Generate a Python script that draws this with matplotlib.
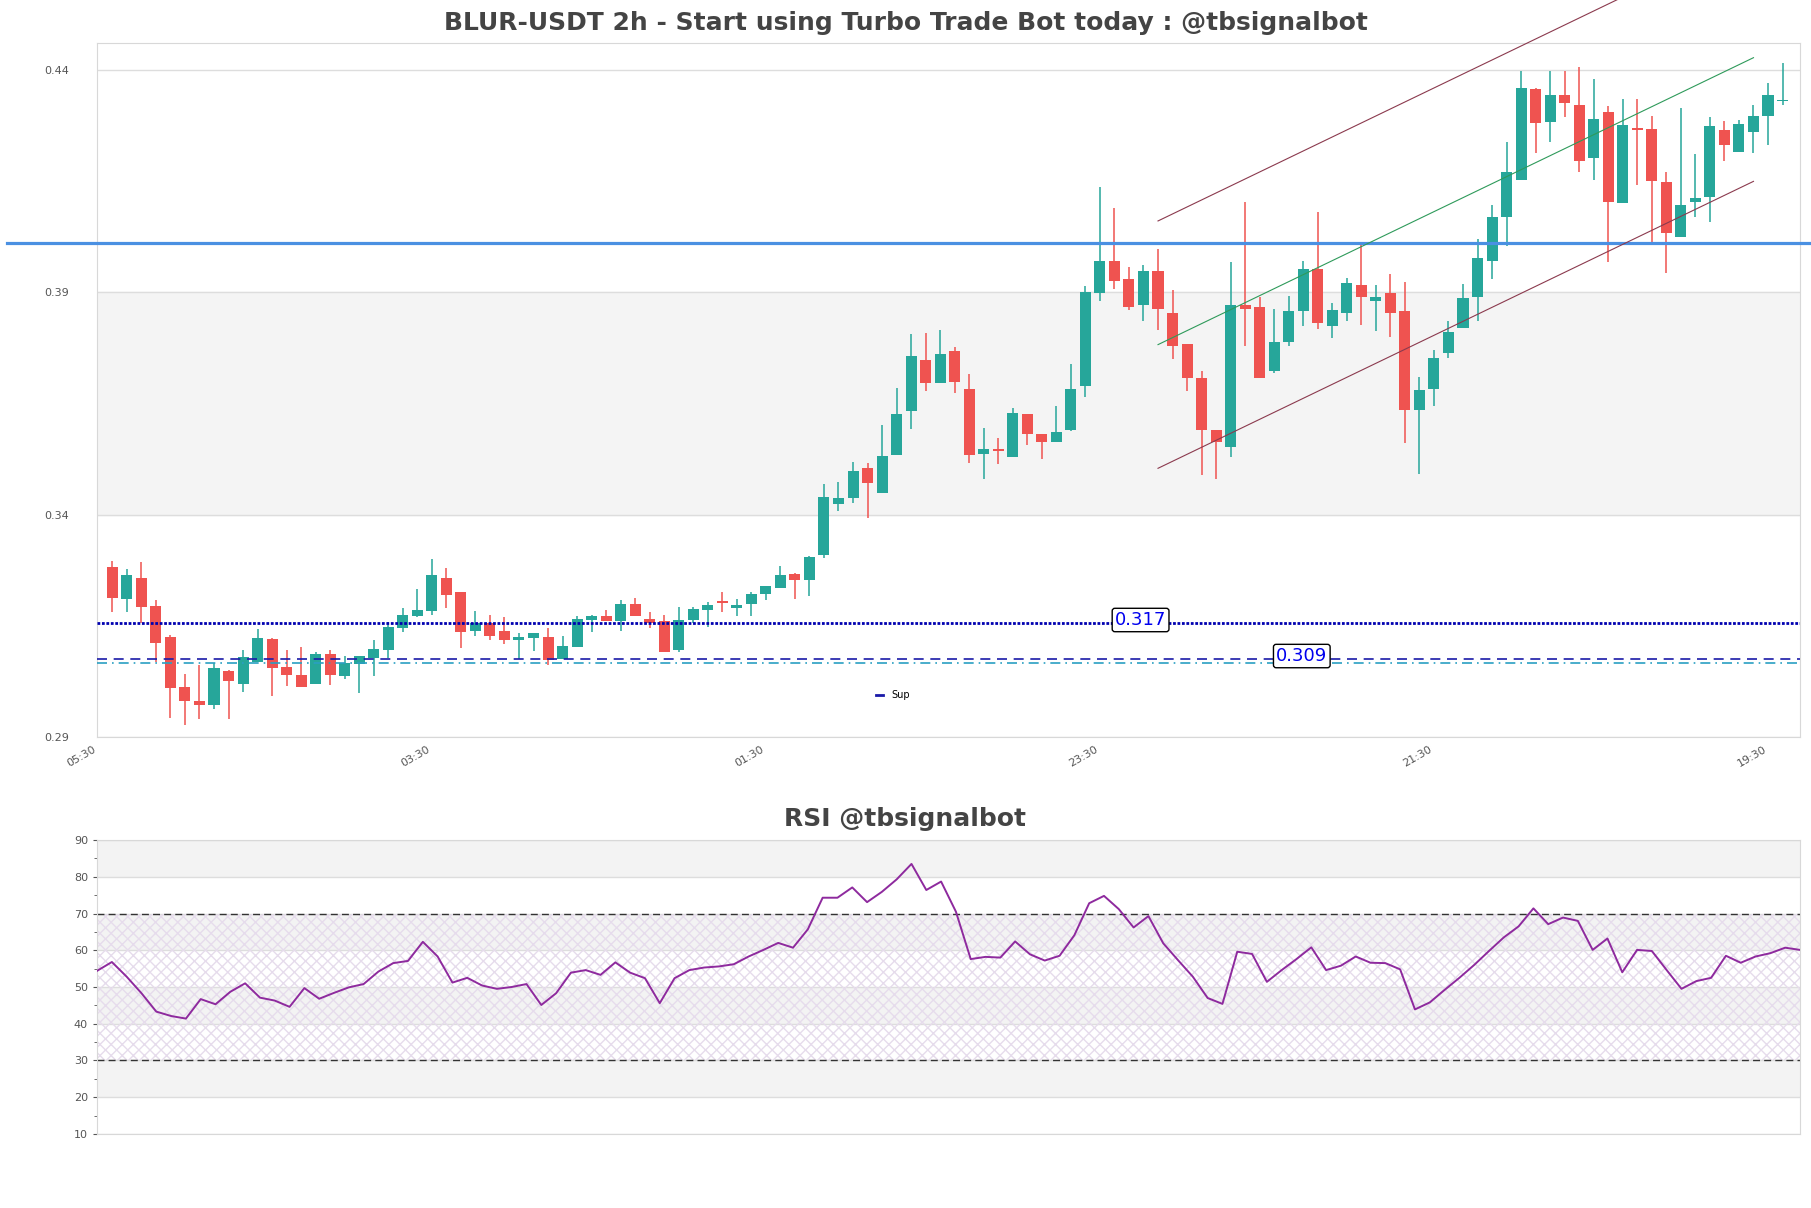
import numpy as np
import matplotlib
matplotlib.use("Agg")
import matplotlib.pyplot as plt
import matplotlib.transforms as mtransforms
from matplotlib.lines import Line2D

# Kerzen-Daten (2h BLUR-USDT)
opens = [
    0.3283, 0.3211, 0.3258, 0.3195, 0.3125, 0.3012, 0.2980, 0.2973, 0.3048, 0.3020,
    0.3069, 0.3120, 0.3057, 0.3039, 0.3020, 0.3087, 0.3038, 0.3065, 0.3077, 0.3096,
    0.3144, 0.3172, 0.3184, 0.3258, 0.3226, 0.3139, 0.3156, 0.3138, 0.3117, 0.3123,
    0.3125, 0.3075, 0.3103, 0.3164, 0.3172, 0.3160, 0.3199, 0.3165, 0.3161, 0.3096,
    0.3162, 0.3186, 0.3203, 0.3191, 0.3198, 0.3222, 0.3236, 0.3267, 0.3254, 0.3308,
    0.3423, 0.3438, 0.3505, 0.3449, 0.3533, 0.3632, 0.3748, 0.3695, 0.3768, 0.3683,
    0.3537, 0.3545, 0.3530, 0.3626, 0.3581, 0.3562, 0.3591, 0.3688, 0.3897, 0.3971,
    0.3930, 0.3872, 0.3948, 0.3853, 0.3784, 0.3707, 0.3591, 0.3551, 0.3872, 0.3867,
    0.3722, 0.3787, 0.3857, 0.3953, 0.3823, 0.3852, 0.3917, 0.3881, 0.3899, 0.3858,
    0.3634, 0.3683, 0.3764, 0.3819, 0.3888, 0.3969, 0.4068, 0.4151, 0.4357, 0.4282,
    0.4342, 0.4321, 0.4201, 0.4306, 0.4100, 0.4270, 0.4267, 0.4148, 0.4025, 0.4103,
    0.4113, 0.4265, 0.4216, 0.4261, 0.4297, 0.4329]
highs = [
    0.3296, 0.3278, 0.3293, 0.3208, 0.3129, 0.3042, 0.3062, 0.3067, 0.3050, 0.3096,
    0.3143, 0.3122, 0.3096, 0.3102, 0.3090, 0.3096, 0.3082, 0.3082, 0.3118, 0.3159,
    0.3189, 0.3233, 0.3300, 0.3280, 0.3226, 0.3183, 0.3174, 0.3170, 0.3133, 0.3134,
    0.3145, 0.3127, 0.3172, 0.3174, 0.3186, 0.3208, 0.3213, 0.3181, 0.3174, 0.3192,
    0.3192, 0.3204, 0.3226, 0.3210, 0.3226, 0.3240, 0.3285, 0.3268, 0.3307, 0.3469,
    0.3473, 0.3518, 0.3515, 0.3602, 0.3685, 0.3806, 0.3809, 0.3815, 0.3777, 0.3716,
    0.3595, 0.3571, 0.3640, 0.3627, 0.3582, 0.3644, 0.3739, 0.3914, 0.4137, 0.4090,
    0.3956, 0.3962, 0.3998, 0.3905, 0.3784, 0.3723, 0.3591, 0.3968, 0.4103, 0.3890,
    0.3863, 0.3892, 0.3971, 0.4081, 0.3876, 0.3932, 0.4007, 0.3917, 0.3941, 0.3923,
    0.3710, 0.3770, 0.3834, 0.3918, 0.4020, 0.4095, 0.4237, 0.4398, 0.4359, 0.4398,
    0.4398, 0.4405, 0.4380, 0.4318, 0.4335, 0.4335, 0.4297, 0.4171, 0.4315, 0.4211,
    0.4294, 0.4285, 0.4288, 0.4321, 0.4371, 0.4416]
lows = [
    0.3182, 0.3182, 0.3156, 0.3069, 0.2943, 0.2928, 0.2940, 0.2962, 0.2940, 0.3002,
    0.3069, 0.2993, 0.3015, 0.3013, 0.3020, 0.3017, 0.3031, 0.3000, 0.3038, 0.3078,
    0.3137, 0.3169, 0.3174, 0.3189, 0.3101, 0.3126, 0.3117, 0.3110, 0.3075, 0.3094,
    0.3061, 0.3075, 0.3103, 0.3135, 0.3160, 0.3139, 0.3171, 0.3146, 0.3092, 0.3090,
    0.3156, 0.3148, 0.3180, 0.3173, 0.3173, 0.3207, 0.3234, 0.3211, 0.3217, 0.3302,
    0.3409, 0.3427, 0.3393, 0.3449, 0.3533, 0.3593, 0.3677, 0.3695, 0.3674, 0.3515,
    0.3481, 0.3513, 0.3530, 0.3557, 0.3524, 0.3562, 0.3587, 0.3665, 0.3880, 0.3907,
    0.3860, 0.3836, 0.3816, 0.3750, 0.3677, 0.3488, 0.3479, 0.3530, 0.3780, 0.3706,
    0.3719, 0.3780, 0.3823, 0.3818, 0.3798, 0.3834, 0.3825, 0.3812, 0.3800, 0.3560,
    0.3492, 0.3645, 0.3752, 0.3819, 0.3834, 0.3929, 0.4003, 0.4151, 0.4212, 0.4237,
    0.4293, 0.4169, 0.4151, 0.3967, 0.4100, 0.4140, 0.4010, 0.3942, 0.4025, 0.4068,
    0.4057, 0.4194, 0.4216, 0.4212, 0.4230, 0.4320]
closes = [
    0.3213, 0.3264, 0.3193, 0.3112, 0.3011, 0.2982, 0.2973, 0.3055, 0.3027, 0.3080,
    0.3123, 0.3054, 0.3040, 0.3013, 0.3087, 0.3040, 0.3066, 0.3082, 0.3098, 0.3147,
    0.3174, 0.3186, 0.3264, 0.3220, 0.3135, 0.3156, 0.3128, 0.3119, 0.3125, 0.3134,
    0.3073, 0.3105, 0.3165, 0.3172, 0.3160, 0.3199, 0.3171, 0.3157, 0.3092, 0.3163,
    0.3188, 0.3197, 0.3202, 0.3197, 0.3222, 0.3240, 0.3264, 0.3253, 0.3305, 0.3440,
    0.3437, 0.3498, 0.3470, 0.3532, 0.3626, 0.3757, 0.3695, 0.3761, 0.3698, 0.3535,
    0.3548, 0.3543, 0.3629, 0.3582, 0.3562, 0.3586, 0.3683, 0.3900, 0.3971, 0.3924,
    0.3866, 0.3948, 0.3861, 0.3779, 0.3706, 0.3589, 0.3562, 0.3872, 0.3861, 0.3708,
    0.3788, 0.3858, 0.3953, 0.3830, 0.3860, 0.3921, 0.3890, 0.3890, 0.3854, 0.3636,
    0.3680, 0.3752, 0.3810, 0.3887, 0.3977, 0.4069, 0.4170, 0.4359, 0.4280, 0.4342,
    0.4325, 0.4194, 0.4290, 0.4102, 0.4276, 0.4264, 0.4149, 0.4034, 0.4095, 0.4112,
    0.4274, 0.4230, 0.4279, 0.4297, 0.4342, 0.4332]

rsi = [
    54.4, 56.8, 52.8, 48.3, 43.3, 42.1, 41.4, 46.7, 45.3, 48.7,
    51.0, 47.1, 46.3, 44.6, 49.7, 46.8, 48.4, 49.9, 50.8, 54.2,
    56.5, 57.1, 62.3, 58.3, 51.2, 52.5, 50.4, 49.5, 50.0, 50.8,
    45.1, 48.3, 53.9, 54.6, 53.3, 56.7, 53.9, 52.4, 45.6, 52.4,
    54.6, 55.3, 55.6, 56.2, 58.3, 60.1, 62.0, 60.7, 65.7, 74.3,
    74.3, 77.1, 73.1, 75.9, 79.3, 83.5, 76.4, 78.7, 70.5, 57.6,
    58.2, 58.0, 62.4, 58.9, 57.2, 58.5, 64.1, 72.8, 74.8, 71.2,
    66.2, 69.3, 61.9, 57.3, 52.8, 47.0, 45.4, 59.6, 59.0, 51.4,
    54.6, 57.6, 60.8, 54.6, 55.8, 58.3, 56.6, 56.5, 54.8, 43.9,
    45.8, 49.2, 52.5, 56.0, 59.8, 63.5, 66.5, 71.4, 67.1, 68.9,
    68.0, 60.1, 63.2, 54.0, 60.1, 59.8, 54.6, 49.5, 51.6, 52.5,
    58.5, 56.6, 58.3, 59.2, 60.7, 60.1]

tick_pos = [-1, 22, 45, 68, 91, 114]
tick_labels = ['05:30', '03:30', '01:30', '23:30', '21:30', '19:30']

# Linien / Niveaus
widerstand = 0.401
sup_dotted = 0.3157
sup_dash1 = 0.3075
sup_dash2 = 0.3067
label_317 = (70.8, 0.3163, '0.317')
label_309 = (81.9, 0.3082, '0.309')

kanal_x = [72, 113]
kanal_mitte = [0.3782, 0.4427]
kanal_oben = [0.4060, 0.4705]
kanal_unten = [0.3504, 0.4149]

gruen = '#26a69a'
rot = '#ef5350'
grau_text = '#444444'

fig = plt.figure(figsize=(18.11, 12.08), dpi=100)
ax = fig.add_axes([0.0536, 0.3899, 0.9403, 0.5745])
ax2 = fig.add_axes([0.0536, 0.0613, 0.9403, 0.2433])

# --- Hauptchart ---
x = np.arange(len(opens))
o = np.array(opens)
c = np.array(closes)
farben = [gruen if cc >= oo else rot for oo, cc in zip(o, c)]
ax.vlines(x, lows, highs, colors=farben, linewidth=1.1, zorder=3)
hoehe = np.maximum(np.abs(c - o), 0.0004)
ax.bar(x, hoehe, bottom=np.minimum(o, c), width=0.76, color=farben, zorder=4)

ax.axhspan(0.34, 0.39, color='#f4f4f4', zorder=0)
ax.set_ylim(0.29, 0.446)
ax.set_xlim(-1.05, 116.2)
ax.set_yticks([0.29, 0.34, 0.39, 0.44])
ax.yaxis.grid(True, color='#dddddd', linewidth=1)
ax.set_axisbelow(True)
ax.tick_params(axis='y', labelsize=8, colors='#555555', length=0, pad=20)
ax.set_xticks(tick_pos)
ax.set_xticklabels(tick_labels, rotation=30, ha='right', rotation_mode='anchor')
ax.tick_params(axis='x', labelsize=8, colors='#555555', length=0, pad=5)
verschiebung = mtransforms.ScaledTranslation(-5 / 100, 0, fig.dpi_scale_trans)
for lab in ax.get_xticklabels():
    lab.set_transform(lab.get_transform() + verschiebung)
for s in ax.spines.values():
    s.set_color('#d8d8d8')

ax.axhline(widerstand, xmin=-0.053, xmax=1.01, color='#4a90e2', linewidth=2.3,
           clip_on=False, zorder=5)
ax.axhline(sup_dotted, color='#0000b0', linewidth=2, linestyle=(0, (1, 0.6)), zorder=5)
ax.axhline(sup_dash1, color='#1a1aa8', linewidth=1.2, linestyle=(0, (6, 4)), zorder=5)
ax.axhline(sup_dash2, color='#2a9fc2', linewidth=1.2, linestyle=(0, (6, 3, 1, 3)), zorder=5)

ax.plot(kanal_x, kanal_oben, color='#8b3a4e', linewidth=0.8, clip_on=False, zorder=5)
ax.plot(kanal_x, kanal_mitte, color='#2e9a5a', linewidth=0.8, clip_on=False, zorder=5)
ax.plot(kanal_x, kanal_unten, color='#8b3a4e', linewidth=0.8, clip_on=False, zorder=5)

for lx, ly, txt in [label_317, label_309]:
    ax.text(lx, ly, txt, color='#0000ee', fontsize=13, ha='center', va='center', zorder=6,
            bbox=dict(boxstyle='round,pad=0.15', fc='white', ec='black', lw=1))

ax.legend([Line2D([0], [0], color='#1a1aa8', linewidth=2)], ['Sup'], loc='center left',
          bbox_to_anchor=(0.452, 0.06), frameon=False, fontsize=7, handlelength=0.8)

fig.text(0.5, 0.981, 'BLUR-USDT 2h - Start using Turbo Trade Bot today : @tbsignalbot',
         ha='center', va='center', fontsize=18, fontweight='bold', color=grau_text)

# --- RSI ---
xr = np.arange(len(rsi))
for lo, hi in [(20, 30), (40, 50), (60, 70), (80, 90)]:
    ax2.axhspan(lo, hi, color='#f3f3f3', zorder=0, linewidth=0)
ax2.axhspan(30, 70, facecolor='none', edgecolor='#e6dcec', hatch='xxx', linewidth=0, zorder=1)
ax2.axhline(70, color='#333333', linewidth=1, linestyle=(0, (5, 3)), zorder=2)
ax2.axhline(30, color='#333333', linewidth=1, linestyle=(0, (5, 3)), zorder=2)
ax2.plot(xr, rsi, color='#8e2a9e', linewidth=1.4, zorder=3)
ax2.set_xlim(0, len(rsi) - 1)
ax2.set_ylim(10, 90)
ax2.set_yticks(range(10, 91, 10))
ax2.set_yticks(range(15, 90, 10), minor=True)
ax2.yaxis.grid(True, color='#dddddd', linewidth=1)
ax2.set_axisbelow(True)
ax2.set_xticks([])
ax2.tick_params(axis='y', which='both', labelsize=8, colors='#555555', length=3)
ax2.tick_params(axis='y', which='minor', length=2)
for s in ax2.spines.values():
    s.set_color('#d8d8d8')

fig.text(0.5, 0.322, 'RSI @tbsignalbot', ha='center', va='center', fontsize=18,
         fontweight='bold', color=grau_text)

fig.savefig('out.png', dpi=100)
